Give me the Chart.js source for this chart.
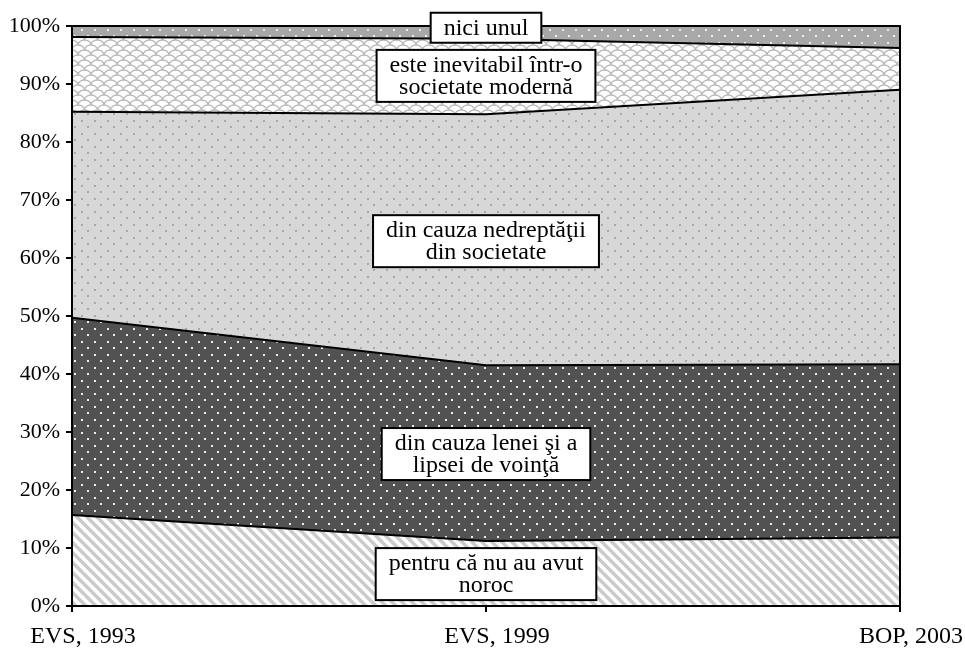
<!DOCTYPE html>
<html>
<head>
<meta charset="utf-8">
<script src="https://cdn.jsdelivr.net/npm/chart.js@4.4.1/dist/chart.umd.min.js"></script>
<style>
  html, body { margin: 0; padding: 0; background: #fff; }
  #wrap { width: 965px; height: 650px; }
</style>
</head>
<body>
<div id="wrap"><canvas id="chartjs"></canvas></div>
<script>
// categorii si valori (procente)
const categories = ['EVS, 1993', 'EVS, 1999', 'BOP, 2003'];

const noroc      = [15.7, 11.2, 11.8];
const lene       = [34.0, 30.3, 29.9];
const nedreptate = [35.5, 43.3, 47.3];
const inevitabil = [12.9, 13.0, 7.2];
const niciunul   = [1.9, 2.2, 3.8];

const seriesNames = [
  ['pentru că nu au avut', 'noroc'],
  ['din cauza lenei şi a', 'lipsei de voinţă'],
  ['din cauza nedreptăţii', 'din societate'],
  ['este inevitabil într-o', 'societate modernă'],
  ['nici unul']
];

const yTicks = [0, 10, 20, 30, 40, 50, 60, 70, 80, 90, 100];

// unde stau etichetele (in unitati de pe axa y, la categoria din mijloc)
const labelY = [5.5, 26.2, 62.9, 91.4, 99.7];

const ctx = document.querySelector('#chartjs');
const pctx = ctx.getContext('2d');

function makePattern(w, h, draw) {
  const c = document.createElement('canvas');
  c.width = w; c.height = h;
  const g = c.getContext('2d');
  draw(g, w, h);
  return pctx.createPattern(c, 'repeat');
}

// puncte in sah
function dots(bg, dot) {
  return makePattern(13, 13, (g, w, h) => {
    g.fillStyle = bg;
    g.fillRect(0, 0, w, h);
    g.fillStyle = dot;
    g.fillRect(3, 3, 2, 2);
    g.fillRect(9, 9, 2, 2);
  });
}

const hatch = makePattern(10, 10, (g, w, h) => {
  g.fillStyle = '#fff';
  g.fillRect(0, 0, w, h);
  g.strokeStyle = '#cbcbcb';
  g.lineWidth = 3.5;
  g.beginPath();
  g.moveTo(-2, -2); g.lineTo(w + 2, h + 2);
  g.moveTo(-2, h - 2); g.lineTo(2, h + 2);
  g.moveTo(w - 2, -2); g.lineTo(w + 2, 2);
  g.stroke();
});

const scales = makePattern(13, 10, (g, w, h) => {
  g.fillStyle = '#fff';
  g.fillRect(0, 0, w, h);
  g.strokeStyle = '#b8b8b8';
  g.lineWidth = 1.3;
  [[6.5, 5], [0, 10], [13, 10], [0, 0], [13, 0], [6.5, 15]].forEach(([cx, cy]) => {
    g.beginPath();
    g.ellipse(cx, cy, 6.5, 5, 0, Math.PI, 2 * Math.PI);
    g.stroke();
  });
});

const fills = [
  hatch,
  dots('#525252', '#eeeeee'),
  dots('#d7d7d7', '#a8a8a8'),
  scales,
  dots('#a8a8a8', '#eeeeee')
];

const allValues = [noroc, lene, nedreptate, inevitabil, niciunul];

const datasets = allValues.map((vals, i) => ({
  label: seriesNames[i].join(' '),
  data: vals,
  backgroundColor: fills[i],
  borderColor: '#000',
  borderWidth: 2,
  pointRadius: 0,
  tension: 0,
  fill: i === 0 ? 'origin' : '-1'
}));

const serif = "'Liberation Serif', 'Times New Roman', serif";

const framePlugin = {
  id: 'frame',
  afterDatasetsDraw(chart) {
    const a = chart.chartArea;
    const c = chart.ctx;
    c.save();
    c.strokeStyle = '#000';
    c.lineWidth = 2;
    c.strokeRect(a.left, a.top, a.right - a.left, a.bottom - a.top);
    c.restore();
  }
};

const labelPlugin = {
  id: 'boxlabels',
  afterDraw(chart) {
    const c = chart.ctx;
    const xs = chart.scales.x;
    const ys = chart.scales.y;
    const x = xs.getPixelForValue(1);
    c.save();
    c.font = '24px ' + serif;
    c.textAlign = 'center';
    c.textBaseline = 'middle';
    seriesNames.forEach((lines, i) => {
      const y = ys.getPixelForValue(labelY[i]);
      let tw = 0;
      lines.forEach(l => { tw = Math.max(tw, c.measureText(l).width); });
      const bw = tw + 26;
      const lh = 22;
      const bh = lines.length * lh + 8;
      c.fillStyle = '#fff';
      c.fillRect(x - bw / 2, y - bh / 2, bw, bh);
      c.strokeStyle = '#000';
      c.lineWidth = 2;
      c.strokeRect(x - bw / 2, y - bh / 2, bw, bh);
      c.fillStyle = '#000';
      lines.forEach((l, k) => {
        c.fillText(l, x, y - (lines.length - 1) * lh / 2 + k * lh + 1);
      });
    });
    c.restore();
  }
};

const myChart = new Chart(ctx, {
  type: 'line',
  data: { labels: categories, datasets: datasets },
  options: {
    responsive: true,
    maintainAspectRatio: false,
    animation: false,
    layout: { padding: { top: 26, right: 65, left: 0, bottom: 0 } },
    plugins: {
      legend: { display: false },
      tooltip: { enabled: false },
      filler: { drawTime: 'beforeDatasetsDraw' }
    },
    scales: {
      x: {
        offset: false,
        grid: { drawOnChartArea: false, drawTicks: true, tickLength: 6, color: '#000', lineWidth: 2 },
        border: { color: '#000', width: 2 },
        ticks: { color: '#000', font: { family: serif, size: 24 }, padding: 10, labelOffset: 11, maxRotation: 0, autoSkip: false },
        afterFit(scale) { scale.height = 44; }
      },
      y: {
        stacked: true,
        min: 0,
        max: 100,
        afterBuildTicks(scale) { scale.ticks = yTicks.map(v => ({ value: v })); },
        grid: { drawOnChartArea: false, drawTicks: true, tickLength: 6, color: '#000', lineWidth: 2 },
        border: { color: '#000', width: 2 },
        ticks: { color: '#000', font: { family: serif, size: 22 }, padding: 6, callback: v => v + '%' },
        afterFit(scale) { scale.width = 72; }
      }
    }
  },
  plugins: [framePlugin, labelPlugin]
});
</script>
</body>
</html>
